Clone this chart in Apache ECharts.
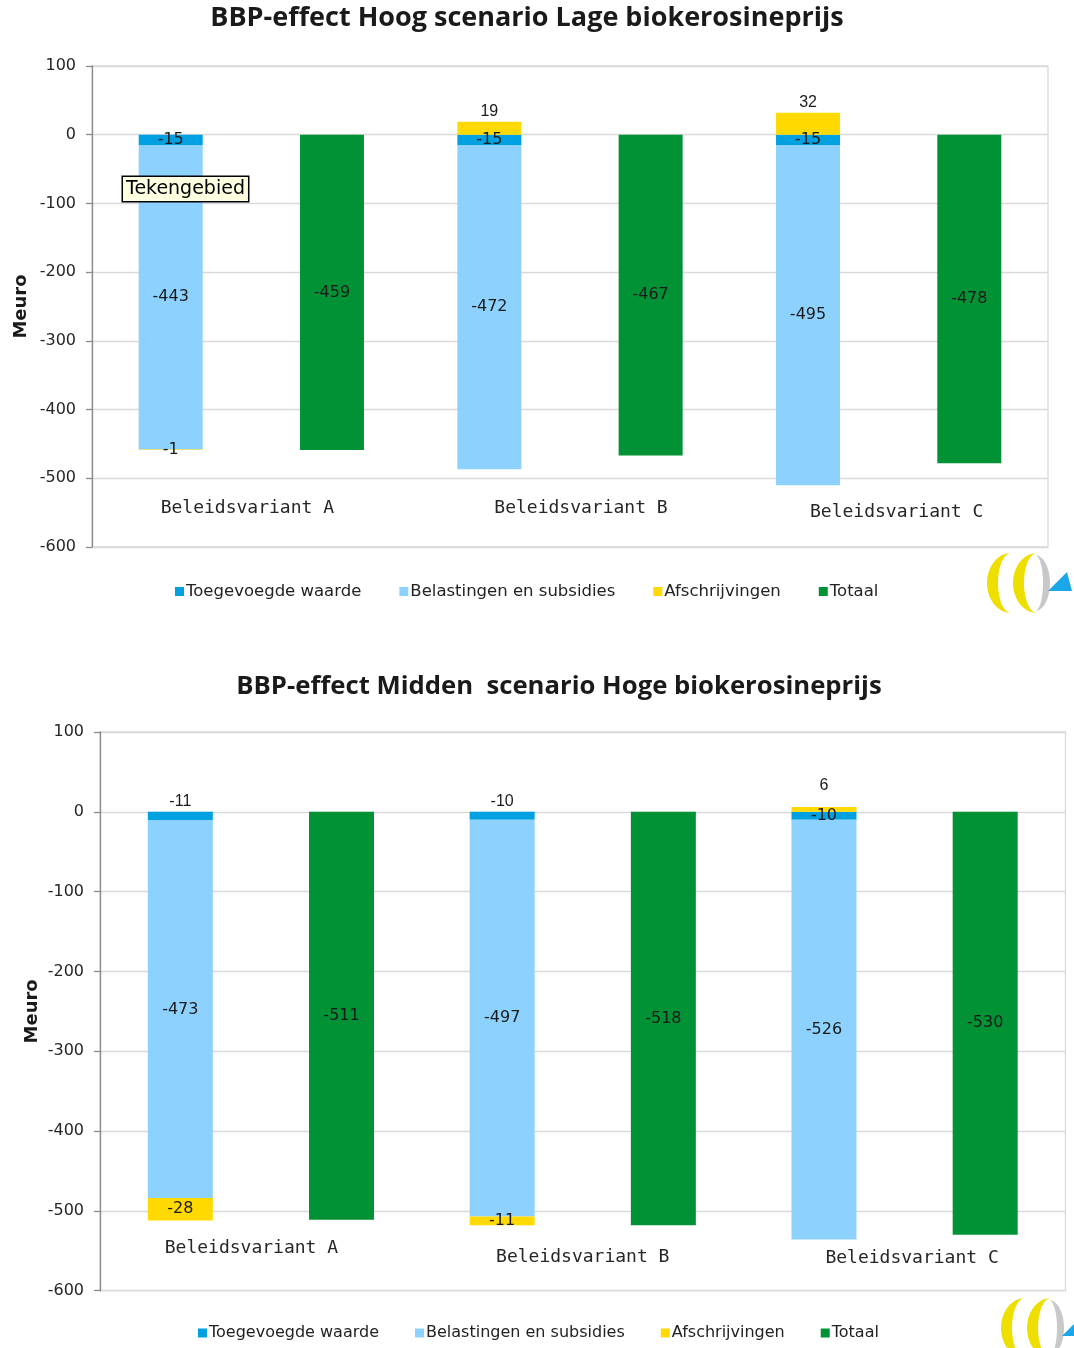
<!DOCTYPE html>
<html>
<head>
<meta charset="utf-8">
<script src="https://cdn.jsdelivr.net/npm/echarts@6/dist/echarts.min.js"></script>
<style>
html,body{margin:0;padding:0;background:#fff;}
#chart{width:1074px;height:1348px;}
</style>
</head>
<body>
<div id="chart"></div>
<script>
// ---- data ----
const categories = ['Beleidsvariant A', 'Beleidsvariant B', 'Beleidsvariant C'];
const seriesNames = ['Toegevoegde waarde', 'Belastingen en subsidies', 'Afschrijvingen', 'Totaal'];
const yTicks = [-600, -500, -400, -300, -200, -100, 0, 100];

const titleTop = 'BBP-effect Hoog scenario Lage biokerosineprijs';
const hoogToegevoegd = [-15, -15, -15];
const hoogBelasting = [-443, -472, -495];
const hoogAfschr = [-1, 19, 32];
const hoogTotaal = [-459, -467, -478];

const titleBottom = 'BBP-effect Midden  scenario Hoge biokerosineprijs';
const middenToegevoegd = [-11, -10, -10];
const middenBelasting = [-473, -497, -526];
const middenAfschr = [-28, -11, 6];
const middenTotaal = [-511, -518, -530];

// ---- styles ----
const colors = ['#00A0E1', '#8DD2FF', '#FFD900', '#009234'];
const labelColor = '#1a1a1a';

function makeData(values, positions, distances) {
  return values.map((v, i) => ({
    value: v,
    label: {
      position: positions ? positions[i] : 'inside',
      distance: distances ? distances[i] : 2,
      fontFamily: (positions && positions[i] === 'top') ? 'Liberation Sans' : 'DejaVu Sans'
    }
  }));
}

function barSeries(name, data, idx, stack, color, bw, gap) {
  return {
    name: name,
    type: 'bar',
    xAxisIndex: idx,
    yAxisIndex: idx,
    stack: stack,
    barWidth: bw,
    barGap: gap,
    itemStyle: { color: color },
    label: {
      show: true,
      position: 'inside',
      color: labelColor,
      fontSize: 16,
      fontFamily: 'DejaVu Sans'
    },
    emphasis: { disabled: true },
    data: data
  };
}

function yAxis(idx, nameGap) {
  return {
    type: 'value',
    gridIndex: idx,
    min: yTicks[0],
    max: yTicks[yTicks.length - 1],
    interval: 100,
    name: 'Meuro',
    nameLocation: 'middle',
    nameRotate: 90,
    nameGap: nameGap,
    nameMoveOverlap: false,
    nameTextStyle: { fontFamily: 'DejaVu Sans', fontWeight: 'bold', fontSize: 18, color: '#1a1a1a' },
    axisLine: { show: true, lineStyle: { color: '#8a8a8a', width: 1.3 } },
    axisTick: { show: true, length: 6, lineStyle: { color: '#8a8a8a', width: 1.3 } },
    splitLine: { show: true, lineStyle: { color: '#d9d9d9', width: 1.3 } },
    axisLabel: { margin: 16, fontFamily: 'DejaVu Sans', fontSize: 16, color: '#262626' }
  };
}

function xAxis(idx, offset, rich) {
  return {
    type: 'category',
    gridIndex: idx,
    data: categories,
    position: 'bottom',
    offset: offset,
    axisLine: { show: false },
    axisTick: { show: false },
    splitLine: { show: false },
    axisLabel: {
      interval: 0,
      margin: 8,
      fontFamily: 'DejaVu Sans Mono',
      fontSize: 18,
      color: '#262626',
      formatter: (v, i) => '{c' + i + '|' + v + '}',
      rich: rich
    }
  };
}

const catFont = { fontFamily: 'DejaVu Sans Mono', fontSize: 18, color: '#262626' };
const richTop = {
  c0: Object.assign({ padding: [0, 8, 0, 0] }, catFont),
  c1: Object.assign({ padding: [0, 0, 0, 22] }, catFont),
  c2: Object.assign({ padding: [4, 0, 0, 16] }, catFont)
};
const richBottom = {
  c0: Object.assign({ padding: [0, 19, 0, 0] }, catFont),
  c1: Object.assign({ padding: [9, 0, 0, 0] }, catFont),
  c2: Object.assign({ padding: [10, 0, 0, 15] }, catFont)
};

// decorative logo: crescents built as polygons
function crescent(tipX, cy, ry, rOut, rIn, dir) {
  const pts = [];
  const n = 24;
  for (let k = 0; k <= n; k++) {
    const a = -Math.PI / 2 + Math.PI * k / n;
    pts.push([tipX + dir * rOut * Math.cos(a), cy + ry * Math.sin(a)]);
  }
  for (let k = n; k >= 0; k--) {
    const a = -Math.PI / 2 + Math.PI * k / n;
    pts.push([tipX + dir * rIn * Math.cos(a), cy + ry * Math.sin(a)]);
  }
  return pts;
}
function logo(x, y) {
  return {
    type: 'group', x: x, y: y, silent: true,
    children: [
      { type: 'polygon', shape: { points: crescent(30, 30, 30, 24, 13, -1) }, style: { fill: '#EEDF00' } },
      { type: 'polygon', shape: { points: crescent(56, 30, 30, 24, 13, -1) }, style: { fill: '#EEDF00' } },
      { type: 'polygon', shape: { points: crescent(54, 30, 28, 15, 8, 1) }, style: { fill: '#c8c8c8' } },
      { type: 'polygon', shape: { points: [[67, 38], [91, 38], [86, 19]] }, style: { fill: '#1BA6EA' } }
    ]
  };
}

function legendAt(left, top, fontSize, gap) {
  return {
    left: left,
    top: top,
    data: seriesNames,
    icon: 'rect',
    itemWidth: 9,
    itemHeight: 9,
    itemGap: gap,
    padding: 0,
    textStyle: { fontFamily: 'DejaVu Sans', fontSize: fontSize, color: '#222', padding: [0, 0, 0, -3] },
    selectedMode: false
  };
}

const option = {
  animation: false,
  color: colors,
  title: [
    { text: titleTop, left: 527, top: 5, textAlign: 'center', padding: 0,
      textStyle: { fontFamily: 'Open Sans', fontWeight: 'bold', fontSize: 27, color: '#1a1a1a' } },
    { text: titleBottom, left: 559, top: 674, textAlign: 'center', padding: 0,
      textStyle: { fontFamily: 'Open Sans', fontWeight: 'bold', fontSize: 25.7, color: '#1a1a1a' } }
  ],
  legend: [
    legendAt(175, 583, 16.5, 38),
    legendAt(198, 1325, 16, 36)
  ],
  grid: [
    { left: 92, top: 66, width: 956, height: 481, show: true, borderColor: '#d9d9d9', borderWidth: 1.3, containLabel: false },
    { left: 100, top: 732, width: 965.5, height: 558.7, show: true, borderColor: '#d9d9d9', borderWidth: 1.3, containLabel: false }
  ],
  xAxis: [xAxis(0, -56, richTop), xAxis(1, -59, richBottom)],
  yAxis: [yAxis(0, 62), yAxis(1, 59)],
  series: [
    barSeries(seriesNames[0], makeData(hoogToegevoegd), 0, 'h', colors[0], 64, '152%'),
    barSeries(seriesNames[1], makeData(hoogBelasting), 0, 'h', colors[1], 64, '152%'),
    barSeries(seriesNames[2], makeData(hoogAfschr, ['inside', 'top', 'top']), 0, 'h', colors[2], 64, '152%'),
    barSeries(seriesNames[3], makeData(hoogTotaal), 0, 't', colors[3], 64, '152%'),
    barSeries(seriesNames[0], makeData(middenToegevoegd, ['top', 'top', 'inside']), 1, 'm', colors[0], 65, '148%'),
    barSeries(seriesNames[1], makeData(middenBelasting), 1, 'm', colors[1], 65, '148%'),
    barSeries(seriesNames[2], makeData(middenAfschr, ['inside', 'inside', 'top'], [2, 2, 13]), 1, 'm', colors[2], 65, '148%'),
    barSeries(seriesNames[3], makeData(middenTotaal), 1, 'mt', colors[3], 65, '148%')
  ],
  graphic: [
    { type: 'text', x: 123, y: 177, z: 100,
      style: { text: 'Tekengebied', font: '19px "DejaVu Sans"', fill: '#000', backgroundColor: '#FFFFE1',
               borderColor: '#000', borderWidth: 1.5, padding: [3, 3, 2, 3] } },
    logo(981, 553),
    logo(995, 1298)
  ]
};

const chart = echarts.init(document.getElementById('chart'), null, { renderer: 'canvas' });
chart.setOption(option);
</script>
</body>
</html>
